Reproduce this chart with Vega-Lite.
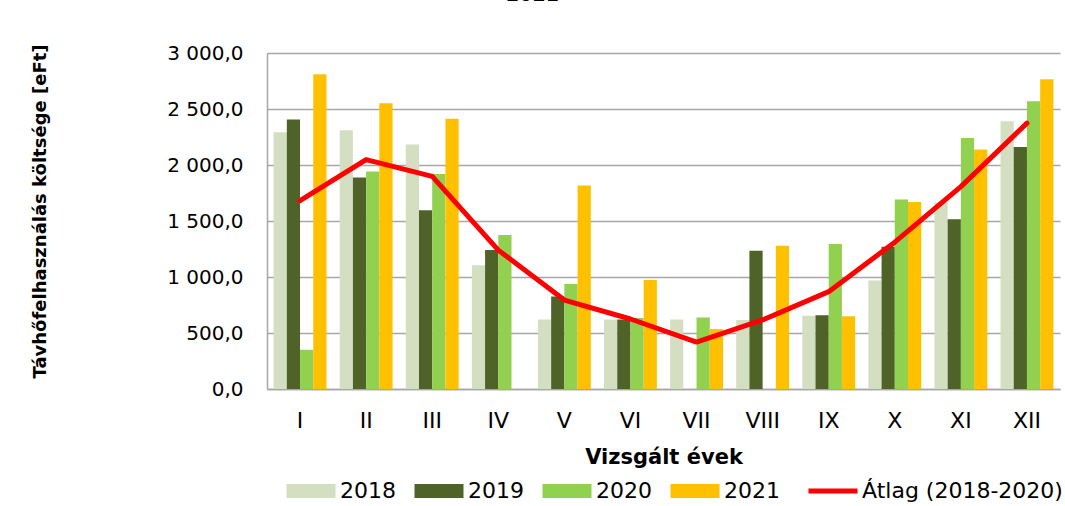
{
  "$schema": "https://vega.github.io/schema/vega-lite/v6.json",
  "width": 793,
  "height": 336,
  "autosize": {"type": "none"},
  "padding": {"left": 267, "top": 53, "right": 5, "bottom": 117},
  "background": "white",
  "config": {"font": "DejaVu Sans", "view": {"stroke": null}},
  "title": {"text": "2021", "fontSize": 19, "fontWeight": "bold", "color": "#000000", "offset": 38, "dx": -131, "anchor": "middle"},
  "data": {"values": [
    {"month": "I", "series": "2018", "value": 2293},
    {"month": "I", "series": "2019", "value": 2406},
    {"month": "I", "series": "2020", "value": 350},
    {"month": "I", "series": "2021", "value": 2810},
    {"month": "I", "series": "Átlag (2018-2020)", "value": 1683},
    {"month": "II", "series": "2018", "value": 2311},
    {"month": "II", "series": "2019", "value": 1889},
    {"month": "II", "series": "2020", "value": 1943},
    {"month": "II", "series": "2021", "value": 2552},
    {"month": "II", "series": "Átlag (2018-2020)", "value": 2048},
    {"month": "III", "series": "2018", "value": 2183},
    {"month": "III", "series": "2019", "value": 1595},
    {"month": "III", "series": "2020", "value": 1919},
    {"month": "III", "series": "2021", "value": 2412},
    {"month": "III", "series": "Átlag (2018-2020)", "value": 1899},
    {"month": "IV", "series": "2018", "value": 1105},
    {"month": "IV", "series": "2019", "value": 1241},
    {"month": "IV", "series": "2020", "value": 1375},
    {"month": "IV", "series": "2021", "value": 0},
    {"month": "IV", "series": "Átlag (2018-2020)", "value": 1240},
    {"month": "V", "series": "2018", "value": 620},
    {"month": "V", "series": "2019", "value": 825},
    {"month": "V", "series": "2020", "value": 938},
    {"month": "V", "series": "2021", "value": 1818},
    {"month": "V", "series": "Átlag (2018-2020)", "value": 794},
    {"month": "VI", "series": "2018", "value": 620},
    {"month": "VI", "series": "2019", "value": 620},
    {"month": "VI", "series": "2020", "value": 635},
    {"month": "VI", "series": "2021", "value": 974},
    {"month": "VI", "series": "Átlag (2018-2020)", "value": 625},
    {"month": "VII", "series": "2018", "value": 620},
    {"month": "VII", "series": "2019", "value": 0},
    {"month": "VII", "series": "2020", "value": 638},
    {"month": "VII", "series": "2021", "value": 535},
    {"month": "VII", "series": "Átlag (2018-2020)", "value": 419},
    {"month": "VIII", "series": "2018", "value": 615},
    {"month": "VIII", "series": "2019", "value": 1235},
    {"month": "VIII", "series": "2020", "value": 0},
    {"month": "VIII", "series": "2021", "value": 1280},
    {"month": "VIII", "series": "Átlag (2018-2020)", "value": 617},
    {"month": "IX", "series": "2018", "value": 653},
    {"month": "IX", "series": "2019", "value": 659},
    {"month": "IX", "series": "2020", "value": 1295},
    {"month": "IX", "series": "2021", "value": 650},
    {"month": "IX", "series": "Átlag (2018-2020)", "value": 869},
    {"month": "X", "series": "2018", "value": 968},
    {"month": "X", "series": "2019", "value": 1271},
    {"month": "X", "series": "2020", "value": 1693},
    {"month": "X", "series": "2021", "value": 1669},
    {"month": "X", "series": "Átlag (2018-2020)", "value": 1311},
    {"month": "XI", "series": "2018", "value": 1666},
    {"month": "XI", "series": "2019", "value": 1515},
    {"month": "XI", "series": "2020", "value": 2240},
    {"month": "XI", "series": "2021", "value": 2139},
    {"month": "XI", "series": "Átlag (2018-2020)", "value": 1807},
    {"month": "XII", "series": "2018", "value": 2391},
    {"month": "XII", "series": "2019", "value": 2160},
    {"month": "XII", "series": "2020", "value": 2570},
    {"month": "XII", "series": "2021", "value": 2766},
    {"month": "XII", "series": "Átlag (2018-2020)", "value": 2374}
  ]},
  "encoding": {
    "x": {
      "field": "month",
      "type": "ordinal",
      "sort": ["I", "II", "III", "IV", "V", "VI", "VII", "VIII", "IX", "X", "XI", "XII"],
      "scale": {"paddingInner": 0.2, "paddingOuter": 0.1},
      "axis": {
        "title": "Vizsgált évek",
        "titleFontSize": 21,
        "titleFontWeight": "bold",
        "titleColor": "#000000",
        "titlePadding": 15,
        "labelAngle": 0,
        "labelFontSize": 22,
        "labelFontWeight": "normal",
        "labelColor": "#000000",
        "labelPadding": 21,
        "ticks": false,
        "domainColor": "#a6a6a6",
        "domainWidth": 1.5
      }
    },
    "color": {
      "field": "series",
      "type": "nominal",
      "scale": {
        "domain": ["2018", "2019", "2020", "2021", "Átlag (2018-2020)"],
        "range": ["#d3dfc0", "#4f6228", "#92d050", "#ffc000", "#ff0000"]
      },
      "legend": {
        "orient": "none",
        "legendX": 33,
        "legendY": 427,
        "direction": "horizontal",
        "columns": 5,
        "title": null,
        "labelFontSize": 22,
        "labelColor": "#000000",
        "labelOffset": 18,
        "labelLimit": 400,
        "columnPadding": 18,
        "symbolSize": 2401,
        "symbolOpacity": 1,
        "encode": {
          "symbols": {
            "update": {
              "shape": {"signal": "datum.label === 'Átlag (2018-2020)' ? 'stroke' : 'M-1,-0.286H1V0.286H-1Z'"},
              "fill": {"scale": "color", "field": "value"},
              "stroke": {"scale": "color", "field": "value"},
              "strokeWidth": {"signal": "datum.label === 'Átlag (2018-2020)' ? 5 : 0"},
              "opacity": {"value": 1}
            }
          }
        }
      }
    }
  },
  "layer": [
    {
      "transform": [{"filter": "datum.series !== 'Átlag (2018-2020)'"}],
      "mark": {"type": "bar"},
      "encoding": {
        "xOffset": {
          "field": "series",
          "type": "nominal",
          "sort": ["2018", "2019", "2020", "2021"],
          "scale": {"domain": ["2018", "2019", "2020", "2021"], "paddingInner": 0, "paddingOuter": 0}
        },
        "y": {
          "field": "value",
          "type": "quantitative",
          "scale": {"domain": [0, 3000], "nice": false},
          "axis": {
            "values": [0, 500, 1000, 1500, 2000, 2500, 3000],
            "labelExpr": "replace(replace(format(datum.value, ',.1f'), ',', ' '), '.', ',')",
            "labelFontSize": 20,
            "labelColor": "#000000",
            "labelPadding": 24,
            "ticks": false,
            "grid": true,
            "gridColor": "#a6a6a6",
            "gridWidth": 1.5,
            "domain": true,
            "domainColor": "#a6a6a6",
            "domainWidth": 1.5,
            "title": "Távhőfelhasználás költsége [eFt]",
            "titleFontSize": 18,
            "titleFontWeight": "bold",
            "titleColor": "#000000",
            "titleX": -227,
            "titleY": 158,
            "titleBaseline": "middle",
            "titleAlign": "center",
            "titleAngle": -90
          }
        }
      }
    },
    {
      "transform": [{"filter": "datum.series === 'Átlag (2018-2020)'"}],
      "mark": {"type": "line", "strokeWidth": 5, "strokeCap": "round", "strokeJoin": "round"},
      "encoding": {
        "y": {"field": "value", "type": "quantitative"}
      }
    }
  ]
}
